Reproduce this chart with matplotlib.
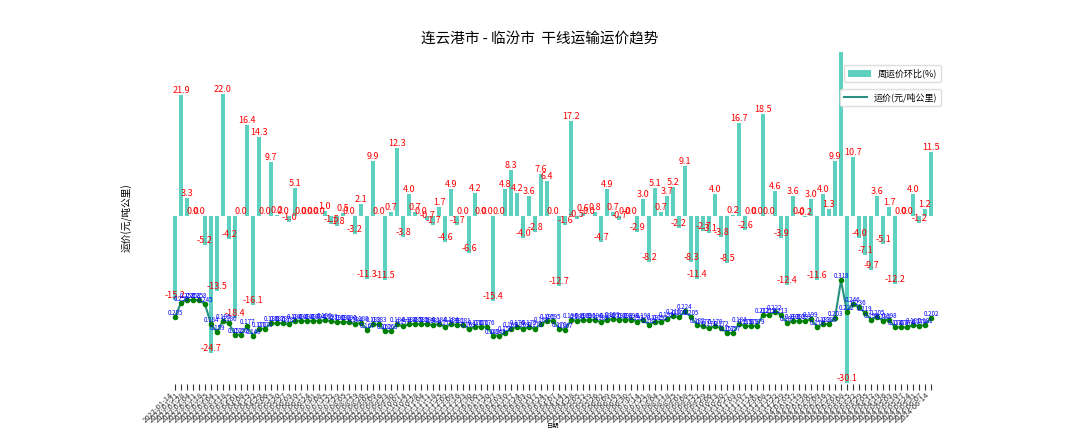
import matplotlib
matplotlib.use("Agg")
import matplotlib.pyplot as plt
from matplotlib.lines import Line2D
import pandas as pd

plt.rcParams['font.family'] = ['Noto Sans CJK SC', 'DejaVu Sans']
plt.rcParams['axes.unicode_minus'] = False

# Weekly dates
dates = pd.date_range("2022-01-14", periods=127, freq="7D").strftime("%Y-%m-%d").tolist()

# Weekly change of the freight rate (%)
pct_change = [
    -15.2, 21.9, 3.3, 0.0, 0.0, -5.2, -24.7, -13.5, 22.0, -4.2,
    -18.4, 0.0, 16.4, -16.1, 14.3, 0.0, 9.7, 0.2, 0.0, -1.0,
    5.1, 0.0, 0.0, 0.0, 0.0, 1.0, -1.5, -1.8, 0.5, 0.0,
    -3.2, 2.1, -11.3, 9.9, 0.0, -11.5, 0.7, 12.3, -3.8, 4.0,
    0.7, 0.0, -0.7, -1.7, 1.7, -4.6, 4.9, -1.7, 0.0, -6.6,
    4.2, 0.0, 0.0, -15.4, 0.0, 4.8, 8.3, 4.2, -4.0, 3.6,
    -2.8, 7.6, 6.4, 0.0, -12.7, -1.6, 17.2, -0.5, 0.6, 0.0,
    0.8, -4.7, 4.9, 0.7, -0.7, 0.0, 0.0, -2.9, 3.0, -8.2,
    5.1, 0.7, 3.7, 5.2, -2.2, 9.1, -8.3, -11.4, -2.7, -3.1,
    4.0, -3.8, -8.5, 0.2, 16.7, -2.6, 0.0, 0.0, 18.5, 0.0,
    4.6, -3.9, -12.4, 3.6, 0.0, -0.2, 3.0, -11.6, 4.0, 1.3,
    9.9, 56.2, -30.1, 10.7, -4.0, -7.1, -9.7, 3.6, -5.1, 1.7,
    -12.2, 0.0, 0.0, 4.0, -1.2, 1.2, 11.5,
]

# Freight rate (yuan per tonne-km)
price = [
    0.205, 0.250, 0.258, 0.258, 0.258, 0.245, 0.184, 0.159, 0.195, 0.186,
    0.152, 0.152, 0.177, 0.148, 0.170, 0.170, 0.186, 0.187, 0.187, 0.185,
    0.194, 0.194, 0.194, 0.194, 0.194, 0.196, 0.193, 0.190, 0.190, 0.190,
    0.184, 0.188, 0.167, 0.183, 0.183, 0.162, 0.163, 0.184, 0.177, 0.184,
    0.185, 0.185, 0.184, 0.181, 0.184, 0.175, 0.184, 0.181, 0.181, 0.169,
    0.176, 0.176, 0.176, 0.149, 0.149, 0.156, 0.169, 0.176, 0.169, 0.175,
    0.170, 0.183, 0.195, 0.195, 0.170, 0.167, 0.196, 0.195, 0.196, 0.196,
    0.198, 0.189, 0.198, 0.199, 0.198, 0.198, 0.198, 0.192, 0.198, 0.182,
    0.191, 0.192, 0.199, 0.210, 0.205, 0.224, 0.205, 0.182, 0.177, 0.171,
    0.178, 0.172, 0.157, 0.157, 0.184, 0.179, 0.179, 0.179, 0.212, 0.212,
    0.222, 0.213, 0.187, 0.193, 0.193, 0.193, 0.199, 0.176, 0.183, 0.185,
    0.203, 0.318, 0.222, 0.246, 0.236, 0.219, 0.198, 0.205, 0.195, 0.198,
    0.174, 0.174, 0.174, 0.181, 0.179, 0.181, 0.202,
]

bar_color = "#5dd0c0"
line_color = "#2a9080"

bar_lo, bar_hi = -30.3, 29.6

fig = plt.figure(figsize=(10.8, 4.32), dpi=100)
ax = fig.add_axes([169 / 1080, 48 / 432, 768 / 1080, 332 / 432])
x = list(range(len(dates)))

ax.bar(x, pct_change, width=0.7, color=bar_color, label="周运价环比(%)", zorder=1)
for xi, v in zip(x, pct_change):
    if bar_lo <= v <= bar_hi - 1.5:
        ax.text(xi, v, f"{v:.1f}", ha="center", va="bottom", color="red",
                fontsize=6.5, zorder=3)

ax.set_xlim(-1, len(dates))
ax.set_ylim(bar_lo, bar_hi)
ax.set_yticks([])
for s in ax.spines.values():
    s.set_visible(False)
ax.set_xticks(x)
ax.set_xticklabels(dates, rotation=45, ha="right", fontsize=5.5, color="#333333")
ax.tick_params(axis="x", length=4, width=0.8, color="#333333", pad=1)
ax.set_xlabel("日期", fontsize=4.5, labelpad=-2)
ax.set_ylabel("运价(元/吨公里)", fontsize=7)
ax.yaxis.set_label_coords(-0.048, 0.5)

ax2 = ax.twinx()
ax2.plot(x, price, color=line_color, linewidth=1.5, zorder=2)
ax2.scatter(x, price, s=9, color="green", zorder=3)
for xi, v in zip(x, price):
    ax2.text(xi, v, f"{v:.3f}", ha="center", va="bottom", color="blue",
             fontsize=4.5, zorder=4)
ax2.set_ylim(0, 1.02)
ax2.set_yticks([])
for s in ax2.spines.values():
    s.set_visible(False)

ax.legend(loc="upper right", bbox_to_anchor=(1.005, 0.96), borderaxespad=0,
          fontsize=6.5, handlelength=2.5, framealpha=1, edgecolor="#dddddd")
ax2.legend(handles=[Line2D([], [], color=line_color, linewidth=1.5)],
           labels=["运价(元/吨公里)"], loc="upper right",
           bbox_to_anchor=(1.005, 0.888), borderaxespad=0,
           fontsize=6.5, handlelength=2.5, framealpha=1, edgecolor="#dddddd")

fig.suptitle("连云港市 - 临汾市  干线运输运价趋势", fontsize=10.5, y=0.925)

fig.savefig("out.png", dpi=100)
